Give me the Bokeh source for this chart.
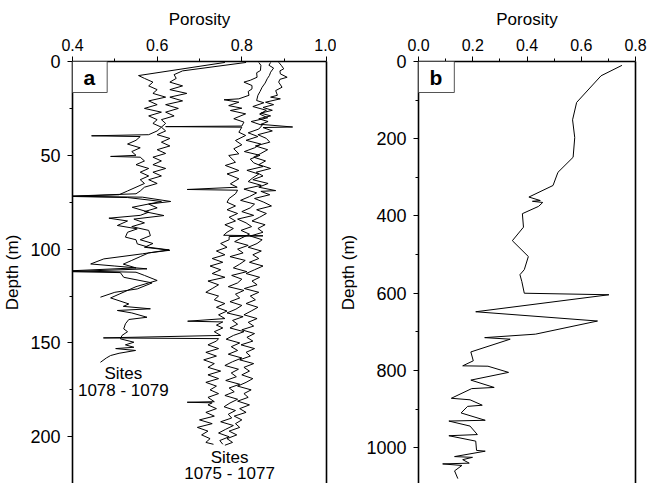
from bokeh.plotting import figure
from bokeh.layouts import row
from bokeh.models import Range1d, FixedTicker, LinearAxis, Label, PrintfTickFormatter
from bokeh.embed import file_html
from bokeh.resources import INLINE

FONT = "Liberation Sans"

# ---------------- ticks ----------------
A_XTICKS = [0.4, 0.6, 0.8, 1.0]
A_XMINOR = [0.5, 0.7, 0.9]
A_YTICKS = [0, 50, 100, 150, 200]
A_YMINOR = [25, 75, 125, 175]
B_XTICKS = [0.0, 0.2, 0.4, 0.6, 0.8]
B_XMINOR = [0.1, 0.3, 0.5, 0.7]
B_YTICKS = [0, 200, 400, 600, 800, 1000]
B_YMINOR = [100, 300, 500, 700, 900]

# ---------------- panel a: sites 1078 - 1079 ----------------
L1_DEPTH = [0.5, 7.5, 9, 11, 13, 15, 17, 19, 21, 23,
            25, 27, 29, 31, 33, 35, 37, 39, 39.6, 40.0,
            42, 44, 46, 48, 50, 50.6, 51, 53, 55, 57,
            59, 61, 63, 65, 67, 69, 71, 71.9, 72.5, 74.6,
            77.7, 80.3, 82, 83.5, 85, 87.4, 89.2, 91, 93.6, 95,
            97.2, 99, 100.4, 102.5, 105.2, 107.9, 109, 110.5, 112, 112.5,
            115, 118, 121.2, 123, 125.6]
L1_POR = [0.76, 0.556, 0.57, 0.59, 0.58, 0.60, 0.59, 0.62, 0.58, 0.60,
          0.57, 0.61, 0.58, 0.60, 0.59, 0.61, 0.60, 0.58, 0.445, 0.56,
          0.55, 0.53, 0.56, 0.54, 0.55, 0.49, 0.56, 0.57, 0.55, 0.58,
          0.56, 0.58, 0.56, 0.57, 0.55, 0.53, 0.51, 0.39, 0.53, 0.61,
          0.541, 0.58, 0.56, 0.486, 0.53, 0.506, 0.553, 0.53, 0.525, 0.55,
          0.553, 0.58, 0.628, 0.565, 0.474, 0.443, 0.50, 0.576, 0.39, 0.513,
          0.521, 0.588, 0.553, 0.50, 0.466]

L2_DEPTH = [0.5, 5, 7, 9, 11, 13, 15, 17, 19, 21,
            23, 25, 27, 29, 31, 33, 35, 37, 39, 41,
            43, 45, 47, 49, 51, 53, 55, 57, 59, 61,
            63, 65, 67, 69, 70.5, 71.8, 72.3, 74.6, 76, 78,
            80, 82.1, 84, 86, 88, 90, 92.8, 95, 97, 99,
            100.6, 102, 104, 106, 108, 110, 111.6, 112.3, 114, 116.7,
            118, 120, 122, 124, 126, 129.2, 130.5, 131.8, 132.7, 134,
            136.3, 137.5, 139.8, 142.5, 144, 146, 147.8, 149.6, 151, 152.3,
            153, 154, 155.5, 156.7, 158, 160.3]
L2_POR = [0.81, 0.66, 0.64, 0.645, 0.63, 0.66, 0.63, 0.67, 0.63, 0.66,
          0.62, 0.65, 0.62, 0.64, 0.61, 0.62, 0.61, 0.62, 0.60, 0.63,
          0.61, 0.63, 0.60, 0.62, 0.59, 0.61, 0.59, 0.62, 0.59, 0.61,
          0.58, 0.60, 0.57, 0.56, 0.55, 0.39, 0.565, 0.632, 0.58, 0.60,
          0.57, 0.616, 0.545, 0.57, 0.54, 0.58, 0.584, 0.56, 0.59, 0.57,
          0.63, 0.58, 0.56, 0.54, 0.52, 0.55, 0.39, 0.55, 0.57, 0.60,
          0.58, 0.55, 0.53, 0.51, 0.49, 0.533, 0.52, 0.584, 0.506, 0.54,
          0.576, 0.533, 0.525, 0.521, 0.53, 0.517, 0.513, 0.545, 0.525, 0.545,
          0.502, 0.549, 0.51, 0.49, 0.48, 0.466]

# ---------------- panel a: sites 1075 - 1077 ----------------
R1_DEPTH = [0.5, 2, 4.8, 6, 8.4, 10, 11, 12.8, 14.6, 16,
            18, 19.9, 20.4, 21.7, 23.5, 24.9, 26.1, 27.9, 30.5, 32.3,
            34.4, 34.7, 35.0, 37.7, 39.4, 42.1, 44.4, 46.5, 49.2, 50.1,
            53.7, 55.4, 58.1, 59.9, 62.5, 65.2, 67, 68.2, 68.6, 70.5,
            73, 75, 77, 79, 81, 83, 85, 87, 89, 91,
            92.6, 92.9, 93.3, 95, 97, 99, 101, 103, 105, 107,
            109, 111, 113, 115, 117, 119, 121, 123, 125, 127,
            129, 131, 133, 135, 137, 138.4, 138.8, 140.5, 142, 144,
            146, 147.3, 147.7, 149, 151, 153, 155, 157, 159, 161,
            163, 165, 167, 169, 171, 173, 175, 177, 179, 181.3,
            181.6, 181.9, 183, 185, 187, 189, 191, 193, 195, 197,
            199, 201, 203, 204]
R1_POR = [0.84, 0.845, 0.844, 0.835, 0.836, 0.82, 0.805, 0.824, 0.824, 0.815,
          0.817, 0.793, 0.758, 0.793, 0.769, 0.80, 0.773, 0.809, 0.781, 0.805,
          0.80, 0.62, 0.80, 0.793, 0.809, 0.785, 0.80, 0.781, 0.793, 0.769,
          0.785, 0.761, 0.793, 0.765, 0.793, 0.773, 0.789, 0.671, 0.79, 0.785,
          0.77, 0.765, 0.785, 0.765, 0.79, 0.77, 0.785, 0.76, 0.78, 0.765,
          0.757, 0.85, 0.77, 0.77, 0.75, 0.765, 0.74, 0.76, 0.73, 0.755,
          0.725, 0.75, 0.73, 0.76, 0.72, 0.745, 0.73, 0.715, 0.745, 0.735,
          0.76, 0.74, 0.765, 0.745, 0.76, 0.672, 0.755, 0.74, 0.755, 0.735,
          0.75, 0.473, 0.745, 0.74, 0.72, 0.745, 0.715, 0.74, 0.71, 0.735,
          0.72, 0.75, 0.72, 0.745, 0.715, 0.74, 0.725, 0.745, 0.72, 0.735,
          0.671, 0.73, 0.72, 0.74, 0.715, 0.735, 0.70, 0.73, 0.695, 0.72,
          0.705, 0.725, 0.715, 0.733]

R2_DEPTH = [0.5, 2, 3.5, 5.7, 7.5, 9.2, 11.5, 13.7, 16, 18,
            20.8, 22, 24, 26, 28, 30, 32, 34, 36, 38,
            40, 42, 44, 46, 48, 50, 52, 54, 56, 58,
            60, 62, 64, 66, 68, 70, 72, 74, 76, 78,
            80, 82, 84, 86, 88, 90, 92, 94, 96, 98,
            100, 102, 104, 106, 108, 110, 112, 114, 116, 118,
            120, 122, 124, 126, 128, 130, 132, 134, 136, 138,
            140, 142, 144, 146, 148, 150, 152, 154, 156, 158,
            160, 162, 164, 166, 168, 170, 172, 174, 176, 178,
            180, 182, 184, 186, 188, 190, 192, 194, 196, 198,
            200, 202, 204]
R2_POR = [0.868, 0.864, 0.875, 0.868, 0.865, 0.86, 0.855, 0.848, 0.843, 0.838,
          0.835, 0.852, 0.826, 0.858, 0.842, 0.861, 0.822, 0.848, 0.84, 0.815,
          0.838, 0.81, 0.845, 0.83, 0.806, 0.843, 0.82, 0.828, 0.85, 0.812,
          0.84, 0.826, 0.815, 0.846, 0.805, 0.835, 0.818, 0.797, 0.83, 0.82,
          0.80, 0.828, 0.79, 0.81, 0.823, 0.798, 0.818, 0.80, 0.783, 0.815,
          0.79, 0.803, 0.772, 0.808, 0.795, 0.78, 0.812, 0.776, 0.80, 0.79,
          0.768, 0.805, 0.785, 0.795, 0.772, 0.80, 0.786, 0.765, 0.803, 0.778,
          0.79, 0.772, 0.805, 0.78, 0.763, 0.795, 0.775, 0.79, 0.768, 0.80,
          0.778, 0.76, 0.792, 0.775, 0.787, 0.762, 0.795, 0.77, 0.782, 0.76,
          0.79, 0.772, 0.758, 0.785, 0.768, 0.776, 0.75, 0.78, 0.762, 0.745,
          0.77, 0.748, 0.755]

R3_DEPTH = [0.4, 2, 3.9, 5, 6.6, 8.4, 9.5, 11, 13.7, 15.5,
            18, 19, 19.9, 21.7, 23, 24.5, 26, 27.5, 29, 30.5,
            32, 33.5, 34.9, 35.2, 37, 39, 41, 43, 45, 47,
            49, 51, 53, 55, 57, 59, 61, 63, 65, 67,
            68.8, 69.2, 71, 73, 75, 77, 79, 81, 83, 85,
            87, 89, 91, 93, 95, 97, 99, 101, 103, 105,
            107, 109, 111, 113, 115, 117, 119, 121, 123, 125,
            127, 129, 131, 133, 135, 137, 139, 141, 143, 145,
            147, 149, 151, 153, 155, 157, 159, 161, 163, 165,
            167, 169, 171, 173, 175, 177, 179, 181, 183, 185,
            187, 189, 191, 193, 195, 197, 199, 201, 203, 204.5]
R3_POR = [0.887, 0.893, 0.899, 0.89, 0.891, 0.907, 0.89, 0.887, 0.895, 0.88,
          0.884, 0.868, 0.891, 0.856, 0.875, 0.85, 0.872, 0.845, 0.868, 0.84,
          0.862, 0.845, 0.92, 0.85, 0.872, 0.838, 0.858, 0.866, 0.832, 0.861,
          0.845, 0.828, 0.856, 0.84, 0.868, 0.834, 0.85, 0.826, 0.862, 0.84,
          0.88, 0.845, 0.866, 0.83, 0.852, 0.87, 0.835, 0.858, 0.842, 0.824,
          0.855, 0.838, 0.85, 0.82, 0.848, 0.836, 0.815, 0.846, 0.826, 0.84,
          0.818, 0.85, 0.83, 0.81, 0.842, 0.824, 0.836, 0.806, 0.84, 0.82,
          0.832, 0.81, 0.838, 0.822, 0.805, 0.836, 0.815, 0.828, 0.80, 0.83,
          0.812, 0.826, 0.798, 0.83, 0.81, 0.82, 0.795, 0.828, 0.805, 0.818,
          0.80, 0.826, 0.81, 0.79, 0.822, 0.805, 0.815, 0.79, 0.818, 0.795,
          0.81, 0.782, 0.80, 0.785, 0.795, 0.77, 0.788, 0.765, 0.778, 0.76]

# ---------------- panel b ----------------
B_DEPTH = [10, 37, 106, 151, 197, 248, 287, 321, 351, 360,
           362, 365, 375, 394, 429, 464, 505, 539, 552, 570,
           600, 604, 648, 672, 706, 715, 719, 752, 775, 788,
           789, 805, 825, 844, 847, 872, 876, 890, 893, 910,
           929, 931, 944, 966, 969, 983, 1007, 1009, 1023, 1025,
           1031, 1040, 1042, 1046, 1060, 1080]
B_POR = [0.75, 0.673, 0.583, 0.568, 0.576, 0.57, 0.514, 0.496, 0.407, 0.449,
         0.42, 0.458, 0.443, 0.383, 0.387, 0.346, 0.405, 0.39, 0.374, 0.381,
         0.39, 0.702, 0.211, 0.66, 0.431, 0.244, 0.338, 0.193, 0.202, 0.163,
         0.256, 0.332, 0.193, 0.279, 0.196, 0.121, 0.19, 0.235, 0.181, 0.157,
         0.246, 0.112, 0.19, 0.217, 0.112, 0.211, 0.214, 0.246, 0.133, 0.199,
         0.163, 0.187, 0.089, 0.16, 0.133, 0.145]


def style(p, xt, xm, yt, ym):
    p.grid.visible = False
    p.outline_line_color = None
    p.background_fill_color = "white"
    p.xaxis.ticker = FixedTicker(ticks=xt, minor_ticks=xm)
    p.xaxis.formatter = PrintfTickFormatter(format="%.1f")
    p.yaxis.ticker = FixedTicker(ticks=yt, minor_ticks=ym)
    for ax in list(p.xaxis) + list(p.yaxis):
        ax.axis_line_width = 1.6
        ax.axis_line_color = "black"
        ax.major_tick_in = 0
        ax.major_tick_out = 5
        ax.minor_tick_in = 0
        ax.minor_tick_out = 3
        ax.major_tick_line_color = "black"
        ax.minor_tick_line_color = "black"
        ax.major_label_text_font = FONT
        ax.major_label_text_color = "black"
        ax.axis_label_text_font = FONT
        ax.axis_label_text_font_style = "normal"
        ax.axis_label_text_font_size = "17px"
        ax.axis_label_text_color = "black"
    p.xaxis.major_label_text_font_size = "16px"
    p.yaxis.major_label_text_font_size = "18px"
    p.xaxis.major_label_standoff = 6
    p.xaxis.axis_label_standoff = 7
    p.yaxis.major_label_standoff = 7
    p.yaxis.axis_label_standoff = 5
    p.xaxis.axis_label = "Porosity"
    p.yaxis.axis_label = "Depth (m)"
    ra = LinearAxis(ticker=FixedTicker(ticks=[]), major_tick_out=0, major_tick_in=0,
                    minor_tick_out=0, minor_tick_in=0,
                    major_tick_line_color=None, minor_tick_line_color=None,
                    major_label_standoff=0, axis_line_width=1.6, axis_line_color="black")
    p.add_layout(ra, "right")


def tag(p, x, y, txt):
    p.add_layout(Label(x=x, y=y, text=txt, text_font=FONT, text_font_style="bold",
                       text_font_size="21px", text_align="left", text_baseline="top",
                       text_color="black",
                       border_line_color="#555555", border_line_width=1,
                       background_fill_color="white",
                       padding=dict(left=11, right=12, top=4, bottom=4)))


pa = figure(width=336, height=483, x_range=Range1d(0.4, 1.0), y_range=Range1d(224.9, 0),
            x_axis_location="above", output_backend="svg", toolbar_location=None,
            min_border_left=72, min_border_right=10, min_border_top=61, min_border_bottom=0)
style(pa, A_XTICKS, A_XMINOR, A_YTICKS, A_YMINOR)
for d, v in [(L1_DEPTH, L1_POR), (L2_DEPTH, L2_POR), (R1_DEPTH, R1_POR),
             (R2_DEPTH, R2_POR), (R3_DEPTH, R3_POR)]:
    pa.line(x=v, y=d, line_color="black", line_width=1)
tag(pa, 0.4, 0, "a")
for x, y, t in [(0.52, 166.3, "Sites"), (0.52, 175.4, "1078 - 1079"),
                (0.771, 210.9, "Sites"), (0.771, 219.6, "1075 - 1077")]:
    pa.add_layout(Label(x=x, y=y, text=t, text_font=FONT, text_font_size="17px",
                        text_align="center", text_baseline="middle", text_color="black"))

pb = figure(width=311, height=483, x_range=Range1d(0.0, 0.8), y_range=Range1d(1092.7, 0),
            x_axis_location="above", output_backend="svg", toolbar_location=None,
            min_border_left=75, min_border_right=12, min_border_top=61, min_border_bottom=0)
style(pb, B_XTICKS, B_XMINOR, B_YTICKS, B_YMINOR)
pb.line(x=B_POR, y=B_DEPTH, line_color="black", line_width=1)
tag(pb, 0.0, 0, "b")

layout = row(pa, pb)
open("out.html", "w").write(file_html(layout, INLINE))
